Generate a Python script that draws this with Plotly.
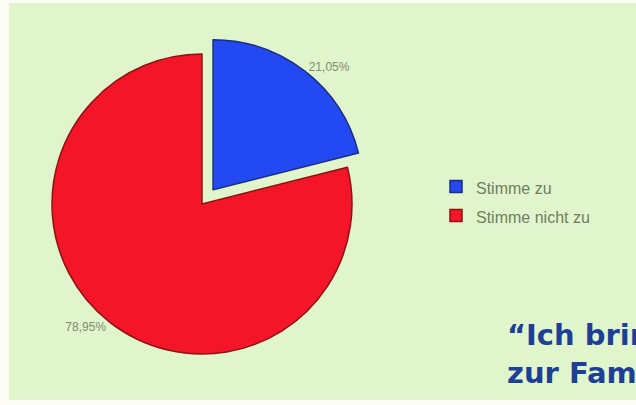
import plotly.graph_objects as go

categories = ["Stimme zu", "Stimme nicht zu"]
values = [4, 15]
slice_colors = ["#2249f2", "#f41628"]
border_colors = ["#1b2f80", "#8e1212"]
pulls = [0.12, 0.0]

W, H = 636, 405
legend_labels = ['<span style="font-size:16px">%s</span>' % c for c in categories]

fig = go.Figure()
fig.add_trace(go.Pie(
    labels=legend_labels,
    values=values,
    sort=False,
    direction="clockwise",
    rotation=0,
    pull=pulls,
    marker=dict(colors=slice_colors, line=dict(color=border_colors, width=1.5)),
    textposition="outside",
    texttemplate="%{percent:.2%}",
    textfont=dict(family="Liberation Sans, Arial", size=12, color="#7d8a6e"),
    domain=dict(x=[(202 - 168) / W, (202 + 168) / W], y=[(201 - 168) / H, (201 + 168) / H]),
    hoverinfo="label+percent",
    showlegend=True,
))

fig.add_shape(type="rect", xref="paper", yref="paper",
              x0=9 / W, x1=1, y0=(H - 400) / H, y1=(H - 3) / H,
              fillcolor="#e1f5cd", line=dict(width=0), layer="below")

fig.add_annotation(
    xref="paper", yref="paper", x=505 / W, y=1 - 316 / H,
    xanchor="left", yanchor="top", align="left", showarrow=False,
    text="<b>“Ich bringe meine Freunde mit<br>zur Familie”</b>",
    font=dict(family="DejaVu Sans", size=29, color="#1d3f95"),
)

fig.update_layout(
    width=W, height=H,
    margin=dict(l=0, r=0, t=0, b=0),
    paper_bgcolor="#fdfdf6",
    plot_bgcolor="rgba(0,0,0,0)",
    separators=",.",
    legend=dict(
        x=436 / W, y=1 - 167 / H, xanchor="left", yanchor="top",
        font=dict(family="Liberation Sans, Arial", size=20, color="#6f7d60"),
        bgcolor="rgba(0,0,0,0)",
    ),
)

fig.write_html("out.html", config={"displayModeBar": False},
               post_script="document.body.style.margin='0';document.body.style.overflow='hidden';")
